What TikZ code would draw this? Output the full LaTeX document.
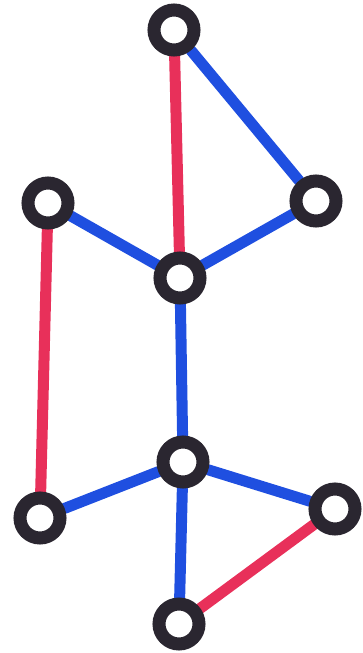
\documentclass[tikz,border=0pt]{standalone}
\usetikzlibrary{positioning,backgrounds}
\definecolor{cRed}{HTML}{E8305A}
\definecolor{cBlue}{HTML}{1F4FE0}
\definecolor{cRing}{HTML}{2A2630}
\tikzset{
  vtx/.style={circle,draw=cRing,line width=13pt,minimum size=40pt,inner sep=0pt},
  redge/.style={draw=cRed,line width=11pt,line cap=round},
  bedge/.style={draw=cBlue,line width=11pt,line cap=round},
}
\begin{document}
\begin{tikzpicture}[x=1pt,y=-1pt]
  \useasboundingbox (0,0) rectangle (362,653);

  % vertices
  \node[vtx] (top)   at (174,30)  {};
  \node[vtx] (right) at (316,201) {};
  \node[vtx] (left)  at (48,203)  {};
  \node[vtx] (mid)   at (180,278) {};
  \node[vtx] (low)   at (183,462) {};
  \node[vtx] (bl)    at (40,518)  {};
  \node[vtx] (br)    at (335,509) {};
  \node[vtx] (bot)   at (179,624) {};

  % edges
  \begin{pgfonlayer}{background}
    \draw[redge] (top) -- (mid);
    \draw[bedge] (top) -- (right);
    \draw[bedge] (right) -- (mid);
    \draw[bedge] (left) -- (mid);
    \draw[redge] (left) -- (bl);
    \draw[bedge] (mid) -- (low);
    \draw[bedge] (low) -- (bl);
    \draw[bedge] (low) -- (br);
    \draw[bedge] (low) -- (bot);
    \draw[redge] (br) -- (bot);
  \end{pgfonlayer}
\end{tikzpicture}
\end{document}
